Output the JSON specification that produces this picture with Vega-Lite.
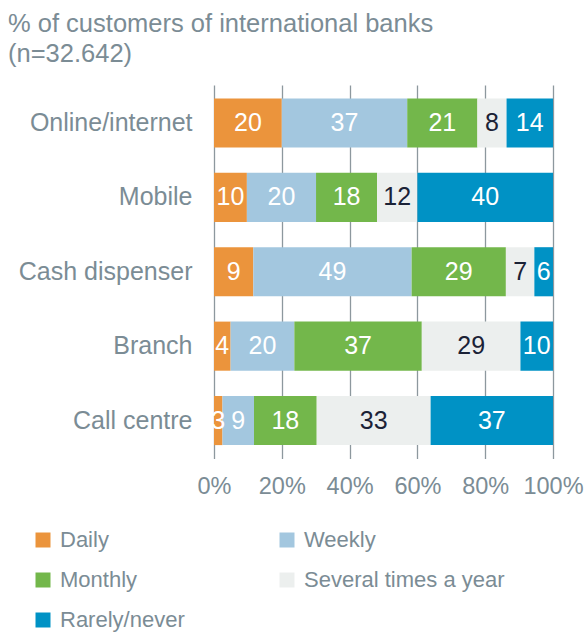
{
  "$schema": "https://vega.github.io/schema/vega-lite/v6.json",
  "width": 339,
  "height": 373.5,
  "autosize": {"type": "none"},
  "padding": {"left": 214, "top": 85, "right": 34, "bottom": 176.5},
  "background": "white",
  "title": {
    "text": ["% of customers of international banks", "(n=32.642)"],
    "anchor": "start",
    "frame": "group",
    "dx": -206,
    "fontSize": 25.5,
    "font": "Liberation Sans",
    "fontWeight": "normal",
    "color": "#7b8c95",
    "lineHeight": 30,
    "offset": 18
  },
  "data": {
    "values": [
      {"channel": "Online/internet", "freq": "Daily", "o": 1, "share": 20.0, "label": 20},
      {"channel": "Online/internet", "freq": "Weekly", "o": 2, "share": 37.0, "label": 37},
      {"channel": "Online/internet", "freq": "Monthly", "o": 3, "share": 20.7, "label": 21},
      {"channel": "Online/internet", "freq": "Several times a year", "o": 4, "share": 8.6, "label": 8},
      {"channel": "Online/internet", "freq": "Rarely/never", "o": 5, "share": 13.7, "label": 14},
      {"channel": "Mobile", "freq": "Daily", "o": 1, "share": 9.7, "label": 10},
      {"channel": "Mobile", "freq": "Weekly", "o": 2, "share": 20.4, "label": 20},
      {"channel": "Mobile", "freq": "Monthly", "o": 3, "share": 18.0, "label": 18},
      {"channel": "Mobile", "freq": "Several times a year", "o": 4, "share": 11.9, "label": 12},
      {"channel": "Mobile", "freq": "Rarely/never", "o": 5, "share": 40.0, "label": 40},
      {"channel": "Cash dispenser", "freq": "Daily", "o": 1, "share": 11.6, "label": 9},
      {"channel": "Cash dispenser", "freq": "Weekly", "o": 2, "share": 46.7, "label": 49},
      {"channel": "Cash dispenser", "freq": "Monthly", "o": 3, "share": 27.8, "label": 29},
      {"channel": "Cash dispenser", "freq": "Several times a year", "o": 4, "share": 8.4, "label": 7},
      {"channel": "Cash dispenser", "freq": "Rarely/never", "o": 5, "share": 5.5, "label": 6},
      {"channel": "Branch", "freq": "Daily", "o": 1, "share": 4.9, "label": 4},
      {"channel": "Branch", "freq": "Weekly", "o": 2, "share": 18.8, "label": 20},
      {"channel": "Branch", "freq": "Monthly", "o": 3, "share": 37.6, "label": 37},
      {"channel": "Branch", "freq": "Several times a year", "o": 4, "share": 29.1, "label": 29},
      {"channel": "Branch", "freq": "Rarely/never", "o": 5, "share": 9.6, "label": 10},
      {"channel": "Call centre", "freq": "Daily", "o": 1, "share": 2.5, "label": 3},
      {"channel": "Call centre", "freq": "Weekly", "o": 2, "share": 9.3, "label": 9},
      {"channel": "Call centre", "freq": "Monthly", "o": 3, "share": 18.5, "label": 18},
      {"channel": "Call centre", "freq": "Several times a year", "o": 4, "share": 33.6, "label": 33},
      {"channel": "Call centre", "freq": "Rarely/never", "o": 5, "share": 36.1, "label": 37}
    ]
  },
  "encoding": {
    "y": {
      "field": "channel",
      "type": "nominal",
      "sort": null,
      "scale": {"paddingInner": 0.34, "paddingOuter": 0.18},
      "axis": {
        "title": null,
        "domain": false,
        "ticks": false,
        "labelFontSize": 25,
        "labelFont": "Liberation Sans",
        "labelColor": "#7b8c95",
        "labelPadding": 22
      }
    }
  },
  "layer": [
    {
      "mark": {"type": "bar"},
      "encoding": {
        "x": {
          "field": "share",
          "type": "quantitative",
          "stack": "zero",
          "scale": {"domain": [0, 100], "nice": false, "zero": true},
          "axis": {
            "title": null,
            "values": [0, 20, 40, 60, 80, 100],
            "labelExpr": "datum.value + '%'",
            "grid": true,
            "gridColor": "#8d989e",
            "gridWidth": 1.3,
            "domain": false,
            "ticks": false,
            "labelFontSize": 23.5,
            "labelFont": "Liberation Sans",
            "labelColor": "#7b8c95",
            "labelPadding": 16,
            "labelFlush": false
          }
        },
        "color": {
          "field": "freq",
          "type": "nominal",
          "scale": {
            "domain": ["Daily", "Weekly", "Monthly", "Several times a year", "Rarely/never"],
            "range": ["#eb943c", "#a3c7df", "#73b74b", "#ecefee", "#0092c5"]
          },
          "legend": {
            "title": null,
            "orient": "none",
            "direction": "horizontal",
            "legendX": -182,
            "legendY": 444,
            "columns": 2,
            "columnPadding": 91,
            "rowPadding": 18,
            "symbolType": "square",
            "symbolSize": 225,
            "symbolStrokeWidth": 0,
            "labelFontSize": 22,
            "labelFont": "Liberation Sans",
            "labelColor": "#7b8c95",
            "labelOffset": 6,
            "labelLimit": 300
          }
        },
        "order": {"field": "o", "type": "quantitative"}
      }
    },
    {
      "mark": {"type": "text", "fontSize": 25, "font": "Liberation Sans", "baseline": "middle", "align": "center"},
      "encoding": {
        "x": {"field": "share", "type": "quantitative", "stack": "zero", "bandPosition": 0.5},
        "detail": {"field": "freq"},
        "order": {"field": "o", "type": "quantitative"},
        "text": {"field": "label", "type": "quantitative"},
        "color": {
          "condition": {"test": "datum.freq === 'Several times a year'", "value": "#1b2236"},
          "value": "#ffffff"
        }
      }
    }
  ],
  "config": {
    "view": {"stroke": null}
  }
}
